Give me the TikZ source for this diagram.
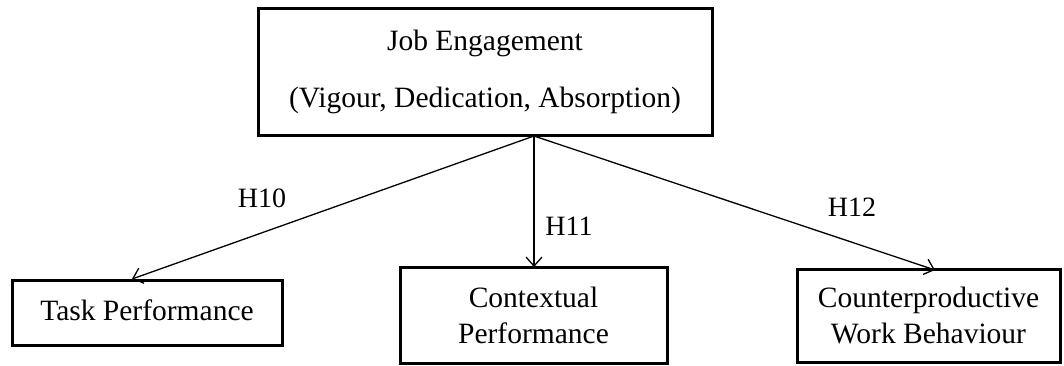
\documentclass[tikz,border=0pt]{standalone}
\usepackage{fontspec}
\setmainfont{Liberation Serif}
\usetikzlibrary{arrows.meta}
\begin{document}
\begin{tikzpicture}[x=1pt,y=-1pt,
  box/.style={draw=black,line width=3pt,fill=white,align=center,inner sep=0pt,
    font=\fontsize{29.5}{36}\selectfont},
  conn/.style={line width=1.3pt,-{Straight Barb[length=9pt,width=16pt,line width=1.3pt]}},
  lab/.style={font=\fontsize{28}{30}\selectfont,inner sep=0pt}]
\useasboundingbox (0,0) rectangle (1064,365);
\fill[white] (0,0) rectangle (1064,365);
\node[box,minimum width=454pt,minimum height=127pt] (je) at (485,72)
  {Job Engagement\\[21pt](Vigour, Dedication, Absorption)};
\node[box,minimum width=270pt,minimum height=65pt] (tp) at (147,312.5)
  {\raisebox{5pt}{Task Performance}};
\node[box,minimum width=267pt,minimum height=96pt] (cp) at (533.5,315)
  {Contextual\\Performance};
\node[box,minimum width=263pt,minimum height=93pt] (cwb) at (928.5,315.5)
  {Counterproductive\\Work Behaviour};
\coordinate (src) at (534,136);
\coordinate (t1) at (132,279);
\coordinate (t2) at (534,267);
\coordinate (t3) at (935,270);
\draw[conn] (src) -- (t1);
\draw[conn] (src) -- (t2);
\draw[conn] (src) -- (t3);
\node[lab] (h10) at (262,198) {H10};
\node[lab] (h11) at (569,226) {H11};
\node[lab] (h12) at (852,207) {H12};
\end{tikzpicture}
\end{document}
